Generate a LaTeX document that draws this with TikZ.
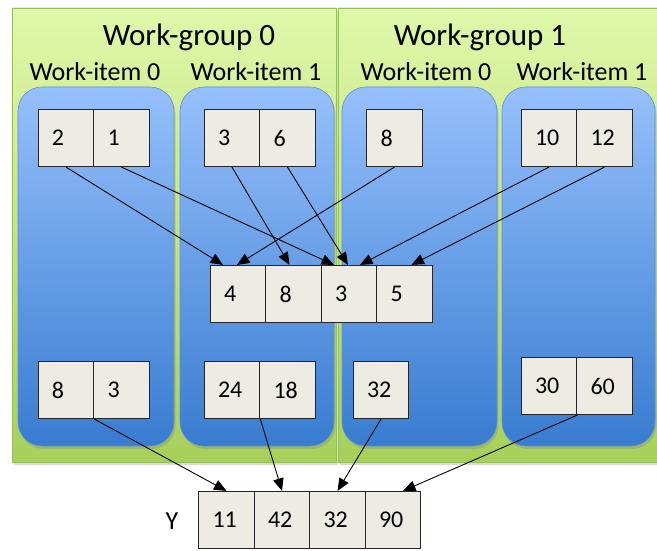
\documentclass[tikz,border=0pt]{standalone}
\usepackage{fontspec}
\setmainfont{Carlito}
\usetikzlibrary{arrows.meta,shadows}
\definecolor{cellfill}{RGB}{238,236,226}
\definecolor{grtop}{RGB}{224,248,170}
\definecolor{grbot}{RGB}{166,208,90}
\definecolor{grline}{RGB}{150,190,95}
\definecolor{bltop}{RGB}{150,192,252}
\definecolor{blbot}{RGB}{56,124,208}
\definecolor{blline}{RGB}{95,145,215}
\begin{document}
\begin{tikzpicture}[x=1pt,y=-1pt,
  group/.style={draw=grline, line width=0.8pt, top color=grtop, bottom color=grbot, inner sep=0pt,
    drop shadow={shadow xshift=2pt,shadow yshift=-3pt,opacity=0.3}},
  item/.style={draw=blline, line width=0.6pt, rounded corners=24pt, top color=bltop, bottom color=blbot, inner sep=0pt,
    drop shadow={shadow xshift=1.5pt,shadow yshift=-3pt,opacity=0.3}},
  cell/.style={draw=black!85, line width=1.2pt, fill=cellfill, minimum width=55.5pt, minimum height=57pt,
    inner sep=0pt, text width=28pt, align=left, font=\fontsize{24}{28}\selectfont},
  grouplabel/.style={font=\fontsize{31}{36}\selectfont, inner sep=0pt},
  itemlabel/.style={font=\fontsize{26}{30}\selectfont, inner sep=0pt},
  arr/.style={-{Triangle[length=12.5pt,width=10.5pt]}, line width=0.9pt, black}
]
\useasboundingbox (0,0) rectangle (657,551);

% work-groups
\node[group, minimum width=324pt, minimum height=454pt] (wg0) at (174,235) {};
\node[group, minimum width=322pt, minimum height=454pt] (wg1) at (499,235) {};

% work-items
\node[item, minimum width=156pt, minimum height=359pt] (i00) at (96,266.5) {};
\node[item, minimum width=154pt, minimum height=359pt] (i01) at (257,266.5) {};
\node[item, minimum width=155pt, minimum height=359pt] (i10) at (419.5,266.5) {};
\node[item, minimum width=153pt, minimum height=359pt] (i11) at (578.5,266.5) {};

% labels
\node[grouplabel] (lg0) at (189,37) {Work-group 0};
\node[grouplabel] (lg1) at (480,37) {Work-group 1};
\node[itemlabel] (l00) at (95,72) {Work-item 0};
\node[itemlabel] (l01) at (256,72) {Work-item 1};
\node[itemlabel] (l10) at (426,72) {Work-item 0};
\node[itemlabel] (l11) at (582,72) {Work-item 1};

% top cells
\node[cell] (t2) at (66,138) {2};
\node[cell] (t1) at (121.5,138) {1};
\node[cell] (t3) at (232,138) {3};
\node[cell] (t6) at (287.5,138) {6};
\node[cell] (t8) at (394.5,138) {8};
\node[cell] (t10) at (549,138) {10};
\node[cell] (t12) at (604.5,138) {12};

% middle array
\node[cell] (m4) at (238,294) {4};
\node[cell] (m8) at (293.5,294) {8};
\node[cell] (m3) at (349,294) {3};
\node[cell] (m5) at (404.5,294) {5};

% bottom cells
\node[cell] (b8) at (66,390) {8};
\node[cell] (b3) at (121.5,390) {3};
\node[cell] (b24) at (232,390) {24};
\node[cell] (b18) at (287.5,390) {18};
\node[cell] (b32) at (381,390) {32};
\node[cell] (b30) at (549,386) {30};
\node[cell] (b60) at (604.5,386) {60};

% result Y
\node[itemlabel] (ylab) at (172,521) {Y};
\node[cell] (y11) at (226.5,520) {11};
\node[cell] (y42) at (282,520) {42};
\node[cell] (y32) at (337.5,520) {32};
\node[cell] (y90) at (393,520) {90};

% arrows top -> middle
\draw[arr] (t2.south) -- ([xshift=-15pt]m4.north);
\draw[arr] (t1.south) -- ([xshift=-15pt]m3.north);
\draw[arr] (t3.south) -- ([xshift=-4pt]m8.north);
\draw[arr] (t6.south) -- ([xshift=-1pt]m3.north);
\draw[arr] (t8.south) -- ([xshift=-1pt]m4.north);
\draw[arr] (t10.south) -- ([xshift=11pt]m3.north);
\draw[arr] (t12.south) -- ([xshift=7pt]m5.north);

% arrows bottom -> Y
\draw[arr] (b8.south east) -- (y11.north);
\draw[arr] (b24.south east) -- (y42.north);
\draw[arr] (b32.south) -- (y32.north);
\draw[arr] (b30.south east) -- ([xshift=10pt]y90.north);
\end{tikzpicture}
\end{document}
